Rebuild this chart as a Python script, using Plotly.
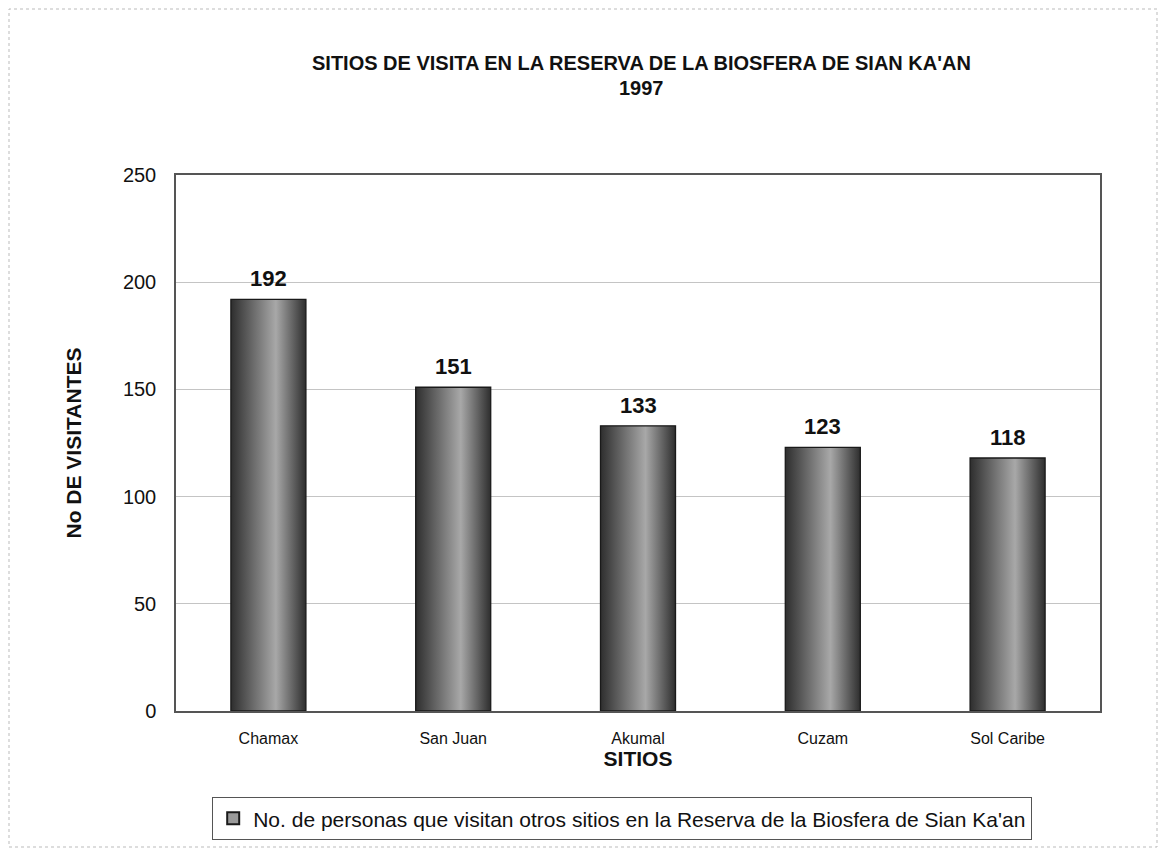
import plotly.graph_objects as go

categories = ["Chamax", "San Juan", "Akumal", "Cuzam", "Sol Caribe"]
visitors = [192, 151, 133, 123, 118]
y_ticks = [0, 50, 100, 150, 200, 250]
title_line1 = "SITIOS DE VISITA EN LA RESERVA DE LA BIOSFERA DE SIAN KA'AN"
title_line2 = "1997"
legend_name = "No. de personas que visitan otros sitios en la Reserva de la Biosfera de Sian Ka'an"

FONT = "Liberation Sans, Arial, sans-serif"
half_w = 0.203

# page body has an 8px margin; figure sized to fit the window
OFF = 8
W, H = 1150, 840
L, R, T, B = 168, 58, 167, 137
PW, PH = W - L - R, H - T - B


def sx(px):  # screen x -> paper x
    return (px - OFF - L) / PW


def sy(py):  # screen y -> paper y
    return (H - B - (py - OFF)) / PH


fig = go.Figure()
for i, v in enumerate(visitors):
    fig.add_trace(go.Scatter(
        x=[i - half_w, i + half_w, i + half_w, i - half_w, i - half_w],
        y=[0, 0, v, v, 0],
        mode="lines",
        fill="toself",
        fillgradient=dict(type="horizontal",
                          colorscale=[[0, "#2e2e2e"], [0.6, "#a8a8a8"], [1, "#2e2e2e"]]),
        line=dict(color="#1a1a1a", width=1.3),
        showlegend=False,
        hoverinfo="skip",
    ))

# legend entry (square swatch)
fig.add_trace(go.Bar(
    x=[None], y=[None], name=legend_name,
    marker=dict(color="#9a9a9a", line=dict(color="#1a1a1a", width=2)),
    showlegend=True, hoverinfo="skip",
))

for i, v in enumerate(visitors):
    fig.add_annotation(x=i, y=v, text=f"<b>{v}</b>", showarrow=False,
                       yanchor="bottom", yshift=6,
                       font=dict(family=FONT, size=22, color="#111111"))

fig.add_annotation(text=f"<b>{title_line1}</b>", xref="paper", yref="paper",
                   x=sx(641), y=sy(63), xanchor="center", yanchor="middle",
                   showarrow=False, font=dict(family=FONT, size=20, color="#111111"))
fig.add_annotation(text=f"<b>{title_line2}</b>", xref="paper", yref="paper",
                   x=sx(641), y=sy(88), xanchor="center", yanchor="middle",
                   showarrow=False, font=dict(family=FONT, size=20, color="#111111"))

fig.update_layout(
    width=W, height=H,
    paper_bgcolor="white", plot_bgcolor="white",
    margin=dict(l=L, r=R, t=T, b=B, autoexpand=False),
    font=dict(family=FONT, color="#111111"),
    xaxis=dict(range=[-0.5, 4.5], tickmode="array", tickvals=list(range(len(categories))),
               ticktext=categories, tickfont=dict(size=16), showgrid=False, zeroline=False,
               showline=True, linecolor="#555555", linewidth=1.5, mirror=True, ticks="",
               ticklabelstandoff=12,
               title=dict(text="<b>SITIOS</b>", font=dict(size=21), standoff=2)),
    yaxis=dict(range=[0, 250], tickvals=y_ticks, tickfont=dict(size=20),
               showgrid=True, gridcolor="#c4c4c4", gridwidth=1, zeroline=False,
               showline=True, linecolor="#555555", linewidth=1.5, mirror=True,
               ticks="", ticklabelstandoff=14,
               title=dict(text="<b>No DE VISITANTES</b>", font=dict(size=21), standoff=36)),
    legend=dict(orientation="h", x=sx(622), xanchor="center",
                y=sy(797), yanchor="top",
                bordercolor="#555555", borderwidth=1.2, bgcolor="white",
                font=dict(family=FONT, size=21, color="#111111"),
                itemwidth=30, itemsizing="constant"),
)

fig.add_shape(type="rect", xref="paper", yref="paper",
              x0=sx(9), x1=sx(1157), y0=sy(847), y1=sy(9),
              line=dict(color="#bbbbbb", width=1, dash="dot"))

fig.write_html("out.html")
